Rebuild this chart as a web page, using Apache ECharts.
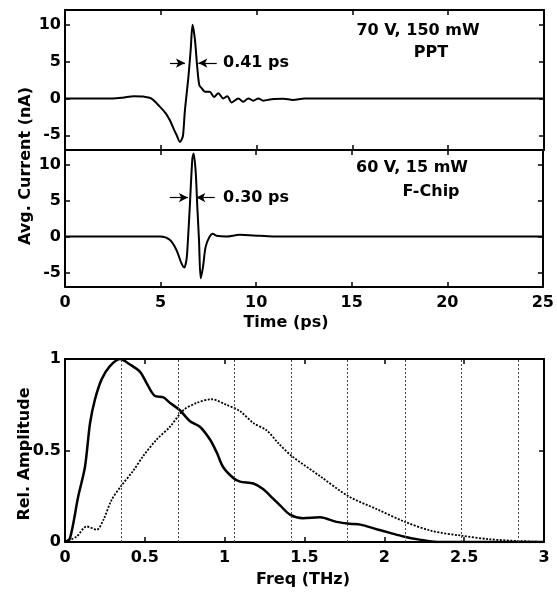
<!DOCTYPE html>
<html>
<head>
<meta charset="utf-8">
<script src="https://cdn.jsdelivr.net/npm/echarts@6/dist/echarts.min.js"></script>
<style>
  html, body { margin: 0; padding: 0; background: #fff; }
  #chart { width: 557px; height: 593px; }
</style>
</head>
<body>
<div id="chart"></div>
<script>
// time traces (ps, nA)
var pptTime = [0, 2.5, 3.0, 3.6, 4.1, 4.5, 4.96, 5.25, 5.48, 5.7, 5.83, 6.0, 6.12, 6.17, 6.26, 6.44, 6.56, 6.66, 6.78, 6.9, 7.01, 7.13, 7.31, 7.55, 7.78, 8.0, 8.26, 8.47, 8.7, 9.05, 9.3, 9.57, 9.83, 10.09, 10.35, 10.78, 11.4, 11.9, 12.5, 25];
var pptCurrent = [0, 0, 0.1, 0.3, 0.25, 0, -1.15, -2, -3, -4.3, -5, -5.9, -5.4, -4.8, -1.6, 2.9, 6.6, 10, 8.0, 4.3, 1.8, 1.4, 0.9, 0.9, 0.2, 0.7, 0, 0.3, -0.55, 0, -0.45, 0, -0.3, 0, -0.3, -0.1, -0.05, -0.2, 0, 0];

var fchipTime = [0, 5.0, 5.48, 5.83, 6.09, 6.24, 6.33, 6.39, 6.53, 6.66, 6.73, 6.84, 6.92, 7.01, 7.1, 7.22, 7.36, 7.57, 7.74, 7.92, 8.44, 9.13, 10.18, 11, 25];
var fchipCurrent = [0, 0, -0.46, -1.86, -3.7, -4.3, -3.6, -2.3, 4.2, 10.7, 11.5, 8.85, 4.2, -0.46, -5.8, -4.2, -1.4, 0, 0.37, 0.1, 0, 0.23, 0.1, 0, 0];

// spectra (THz, rel.)
var pptFreq = [0, 0.031, 0.083, 0.125, 0.157, 0.188, 0.23, 0.28, 0.344, 0.407, 0.47, 0.51, 0.56, 0.616, 0.658, 0.72, 0.783, 0.845, 0.908, 0.95, 0.99, 1.054, 1.096, 1.18, 1.24, 1.30, 1.347, 1.409, 1.49, 1.597, 1.70, 1.785, 1.85, 1.952, 2.035, 2.12, 2.22, 2.33, 3.0];
var pptAmp = [0, 0.02, 0.25, 0.41, 0.65, 0.78, 0.89, 0.96, 1.0, 0.97, 0.93, 0.87, 0.8, 0.79, 0.76, 0.72, 0.66, 0.63, 0.56, 0.49, 0.41, 0.35, 0.33, 0.32, 0.29, 0.24, 0.20, 0.15, 0.13, 0.135, 0.11, 0.10, 0.095, 0.07, 0.05, 0.03, 0.013, 0, 0];

var fchipFreq = [0, 0.073, 0.136, 0.198, 0.24, 0.292, 0.355, 0.428, 0.49, 0.574, 0.658, 0.741, 0.825, 0.918, 1.01, 1.096, 1.18, 1.263, 1.336, 1.42, 1.597, 1.775, 1.952, 2.13, 2.30, 2.48, 2.66, 2.85, 3.0];
var fchipAmp = [0, 0.03, 0.085, 0.067, 0.12, 0.23, 0.31, 0.39, 0.47, 0.56, 0.63, 0.72, 0.76, 0.78, 0.75, 0.715, 0.65, 0.61, 0.54, 0.47, 0.36, 0.25, 0.18, 0.11, 0.06, 0.035, 0.015, 0.005, 0];

var harmonics = [0.355, 0.71, 1.065, 1.42, 1.775, 2.13, 2.485, 2.84];
var currentTicks = [-5, 0, 5, 10];

function zip(xs, ys) {
  return xs.map(function (x, i) { return [x, ys[i]]; });
}

var FONT = 'DejaVu Sans';
var lbl = { color: '#000', fontFamily: FONT, fontWeight: 'bold', fontSize: 16 };
var axLine = { show: true, onZero: false, lineStyle: { color: '#000', width: 2 } };
var tick = { show: true, inside: true, length: 5, lineStyle: { color: '#000', width: 1.5 } };

function timeX(grid, pos, showLabel) {
  return {
    type: 'value', gridIndex: grid, position: pos, min: 0, max: 25, interval: 5,
    axisLine: axLine, axisTick: tick, splitLine: { show: false },
    axisLabel: Object.assign({ show: showLabel, margin: 8 }, lbl)
  };
}
function currentY(grid, pos, showLabel) {
  return {
    type: 'value', gridIndex: grid, position: pos, min: -7, max: 12,
    axisLine: axLine, splitLine: { show: false },
    axisTick: Object.assign({ customValues: currentTicks }, tick),
    axisLabel: Object.assign({ show: showLabel, margin: 4, customValues: currentTicks }, lbl)
  };
}

var chart = echarts.init(document.getElementById('chart'));

var arrowLine = {
  silent: true,
  symbol: ['none', 'arrow'],
  symbolSize: [7, 9],
  label: { show: false },
  lineStyle: { color: '#000', width: 1.2, type: 'solid' }
};

var option = {
  animation: false,
  backgroundColor: '#fff',
  grid: [
    { left: 65, top: 10, width: 479, height: 140 },
    { left: 65, top: 150, width: 479, height: 137 },
    { left: 65, top: 359, width: 479, height: 183 }
  ],
  xAxis: [
    timeX(0, 'bottom', false),
    timeX(0, 'top', false),
    timeX(1, 'bottom', true),
    timeX(1, 'top', false),
    {
      type: 'value', gridIndex: 2, position: 'bottom', min: 0, max: 3, interval: 0.5,
      axisLine: axLine, axisTick: tick, splitLine: { show: false },
      axisLabel: Object.assign({ margin: 8 }, lbl)
    },
    {
      type: 'value', gridIndex: 2, position: 'top', min: 0, max: 3, interval: 0.5,
      axisLine: axLine, axisTick: tick, splitLine: { show: false },
      axisLabel: { show: false }
    }
  ],
  yAxis: [
    currentY(0, 'left', true),
    currentY(0, 'right', false),
    currentY(1, 'left', true),
    currentY(1, 'right', false),
    {
      type: 'value', gridIndex: 2, position: 'left', min: 0, max: 1, interval: 0.5,
      axisLine: axLine, axisTick: tick, splitLine: { show: false },
      axisLabel: Object.assign({ margin: 4 }, lbl)
    },
    {
      type: 'value', gridIndex: 2, position: 'right', min: 0, max: 1, interval: 0.5,
      axisLine: axLine, axisTick: tick, splitLine: { show: false },
      axisLabel: { show: false }
    }
  ],
  series: [
    {
      name: 'PPT', type: 'line', xAxisIndex: 0, yAxisIndex: 0,
      data: zip(pptTime, pptCurrent), showSymbol: false, smooth: 0.3,
      lineStyle: { color: '#000', width: 2 },
      markLine: Object.assign({
        data: [
          [{ coord: [5.48, 4.8] }, { coord: [6.26, 4.8] }],
          [{ coord: [7.92, 4.8] }, { coord: [6.96, 4.8] }]
        ]
      }, arrowLine)
    },
    {
      name: 'F-Chip', type: 'line', xAxisIndex: 2, yAxisIndex: 2,
      data: zip(fchipTime, fchipCurrent), showSymbol: false, smooth: 0.3,
      lineStyle: { color: '#000', width: 2 },
      markLine: Object.assign({
        data: [
          [{ coord: [5.48, 5.4] }, { coord: [6.43, 5.4] }],
          [{ coord: [7.83, 5.4] }, { coord: [6.87, 5.4] }]
        ]
      }, arrowLine)
    },
    {
      name: 'PPT spectrum', type: 'line', xAxisIndex: 4, yAxisIndex: 4,
      data: zip(pptFreq, pptAmp), showSymbol: false, smooth: 0.3,
      lineStyle: { color: '#000', width: 2.5 },
      markLine: {
        silent: true, symbol: 'none', label: { show: false },
        lineStyle: { color: '#444', width: 1, type: [2, 2] },
        data: harmonics.map(function (v) { return { xAxis: v }; })
      }
    },
    {
      name: 'F-Chip spectrum', type: 'line', xAxisIndex: 4, yAxisIndex: 4,
      data: zip(fchipFreq, fchipAmp), showSymbol: false, smooth: 0.3,
      lineStyle: { color: '#000', width: 1.8, type: [2, 1.5] }
    }
  ],
  graphic: [
    { type: 'text', x: 418, y: 31, style: Object.assign({ text: '70 V, 150 mW', align: 'center', verticalAlign: 'middle' }, textStyle()) },
    { type: 'text', x: 431, y: 53, style: Object.assign({ text: 'PPT', align: 'center', verticalAlign: 'middle' }, textStyle()) },
    { type: 'text', x: 223, y: 63, style: Object.assign({ text: '0.41 ps', align: 'left', verticalAlign: 'middle' }, textStyle()) },
    { type: 'text', x: 412, y: 168, style: Object.assign({ text: '60 V, 15 mW', align: 'center', verticalAlign: 'middle' }, textStyle()) },
    { type: 'text', x: 431, y: 192, style: Object.assign({ text: 'F-Chip', align: 'center', verticalAlign: 'middle' }, textStyle()) },
    { type: 'text', x: 223, y: 198, style: Object.assign({ text: '0.30 ps', align: 'left', verticalAlign: 'middle' }, textStyle()) },
    { type: 'text', x: 286, y: 323, style: Object.assign({ text: 'Time (ps)', align: 'center', verticalAlign: 'middle' }, textStyle()) },
    { type: 'text', x: 303, y: 580, style: Object.assign({ text: 'Freq (THz)', align: 'center', verticalAlign: 'middle' }, textStyle()) },
    { type: 'text', x: 26, y: 166, rotation: Math.PI / 2, style: Object.assign({ text: 'Avg. Current (nA)', align: 'center', verticalAlign: 'middle' }, textStyle()) },
    { type: 'text', x: 25, y: 454, rotation: Math.PI / 2, style: Object.assign({ text: 'Rel. Amplitude', align: 'center', verticalAlign: 'middle' }, textStyle()) }
  ]
};

function textStyle() {
  return { fill: '#000', font: 'bold 16px "DejaVu Sans"' };
}

chart.setOption(option);
</script>
</body>
</html>
